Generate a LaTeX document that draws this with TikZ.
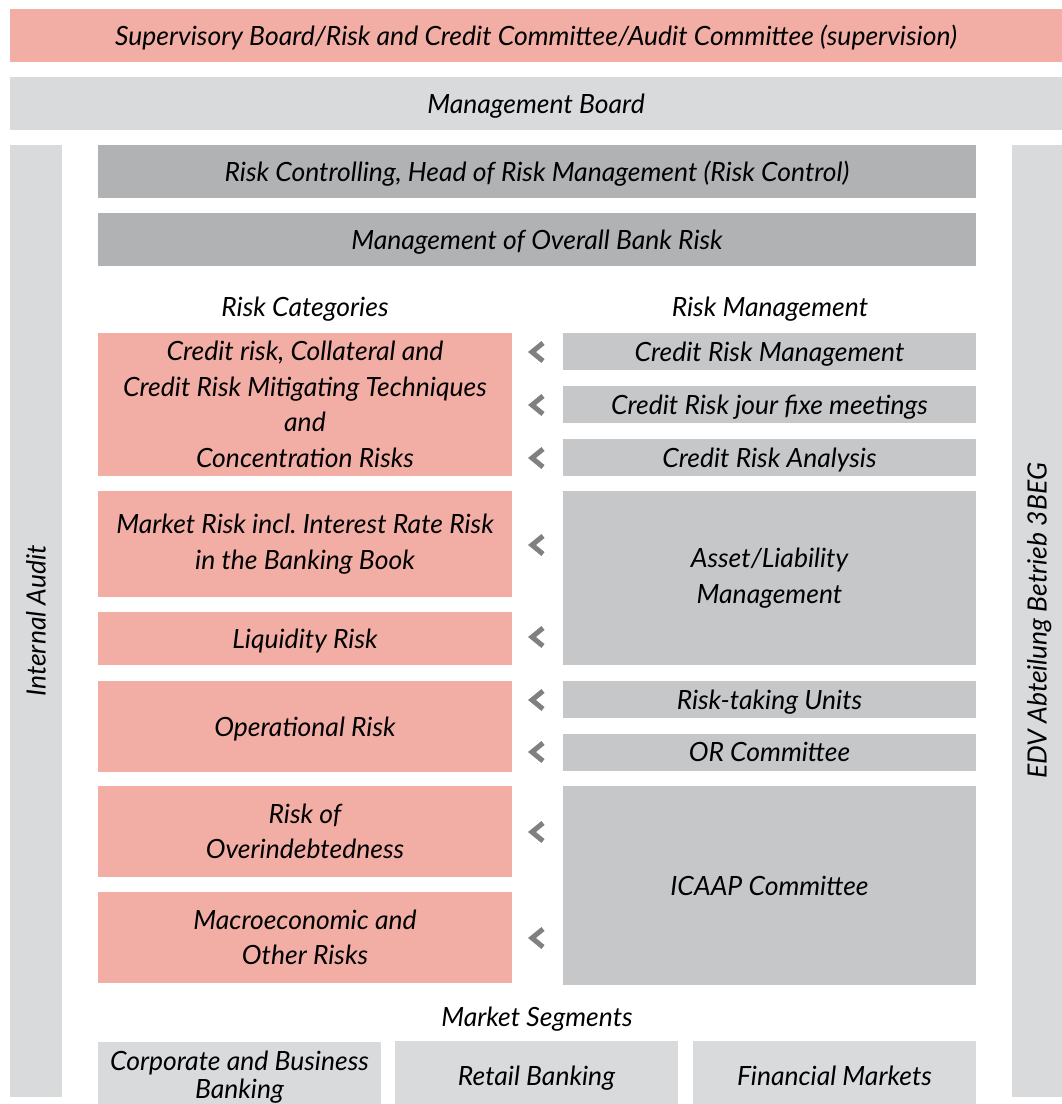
\documentclass[tikz,border=0pt]{standalone}
\usepackage{fontspec}
\setmainfont{Lato}
\frenchspacing
\definecolor{pinkc}{RGB}{242,174,165}
\definecolor{lightg}{RGB}{217,218,220}
\definecolor{midg}{RGB}{198,199,201}
\definecolor{darkg}{RGB}{177,178,180}
\definecolor{chevc}{RGB}{128,128,128}
\begin{document}
\begin{tikzpicture}[x=1pt,y=-1pt,
  box/.style={inner sep=0pt, outer sep=0pt, align=center, text=black,
    font=\fontsize{26.5}{35.5}\selectfont\itshape},
  one/.style={text height=19pt, text depth=0pt},
  pinkbox/.style={box, fill=pinkc},
  lightbox/.style={box, fill=lightg},
  midbox/.style={box, fill=midg},
  darkbox/.style={box, fill=darkg},
  head/.style={inner sep=0pt, one, font=\fontsize{26.5}{30}\selectfont\itshape},
  chev/.style={draw=chevc, line width=5pt, line join=miter, line cap=butt}]
\useasboundingbox (0,0) rectangle (1062,1104);
% top bars
\node[pinkbox, one, minimum width=1052pt, minimum height=53pt] (sup) at (536,35.5)
  {Supervisory Board/Risk and Credit Committee/Audit Committee (supervision)};
\node[lightbox, one, minimum width=1052pt, minimum height=53pt] (mb) at (536,103.5)
  {Management Board};
% side bars
\node[lightbox, one, minimum width=952pt, minimum height=52pt, rotate=90] (audit) at (36,621)
  {Internal Audit};
\node[lightbox, one, minimum width=952pt, minimum height=50pt, rotate=90] (edv) at (1037,621)
  {EDV Abteilung Betrieb 3BEG};
% dark bars
\node[darkbox, one, minimum width=878pt, minimum height=53pt] (rc) at (537,171.5)
  {Risk Controlling, Head of Risk Management (Risk Control)};
\node[darkbox, one, minimum width=878pt, minimum height=53pt] (mobr) at (537,239.5)
  {Management of Overall Bank Risk};
% headers
\node[head] (hcat) at (305,307) {Risk Categories};
\node[head] (hman) at (770,307) {Risk Management};
% risk categories
\node[pinkbox, minimum width=414pt, minimum height=143pt] (cr) at (305,404.5)
  {Credit risk, Collateral and\\Credit Risk Mitigating Techniques\\and\\Concentration Risks};
\node[pinkbox, minimum width=414pt, minimum height=106pt] (mr) at (305,544)
  {Market Risk incl. Interest Rate Risk\\in the Banking Book};
\node[pinkbox, one, minimum width=414pt, minimum height=53pt] (liq) at (305,638.5)
  {Liquidity Risk};
\node[pinkbox, one, minimum width=414pt, minimum height=91pt] (op) at (305,726.5)
  {Operational Risk};
\node[pinkbox, minimum width=414pt, minimum height=91pt] (od) at (305,831.5)
  {Risk of\\Overindebtedness};
\node[pinkbox, minimum width=414pt, minimum height=91pt] (mac) at (305,937.5)
  {Macroeconomic and\\Other Risks};
% risk management
\node[midbox, one, minimum width=413pt, minimum height=37pt] (crm) at (769.5,351.5)
  {Credit Risk Management};
\node[midbox, one, minimum width=413pt, minimum height=37pt] (jf) at (769.5,404.5)
  {Credit Risk jour fixe meetings};
\node[midbox, one, minimum width=413pt, minimum height=37pt] (cra) at (769.5,457.5)
  {Credit Risk Analysis};
\node[midbox, minimum width=413pt, minimum height=174pt] (alm) at (769.5,578)
  {Asset/Liability\\Management};
\node[midbox, one, minimum width=413pt, minimum height=37pt] (rtu) at (769.5,699.5)
  {Risk-taking Units};
\node[midbox, one, minimum width=413pt, minimum height=37pt] (orc) at (769.5,752)
  {OR Committee};
\node[midbox, one, minimum width=413pt, minimum height=199pt] (icaap) at (769.5,885.5)
  {ICAAP Committee};
% chevrons
\foreach \yy in {352,405,458,545,637,700,752,832,938}
  \draw[chev] (543,\yy-9) -- (532,\yy) -- (543,\yy+9);
% market segments
\node[head] (hseg) at (537,1017) {Market Segments};
\node[lightbox, minimum width=283pt, minimum height=70pt,
  font=\fontsize{26.5}{28}\selectfont\itshape] (corp) at (239.5,1077)
  {Corporate and Business\\Banking};
\node[lightbox, one, minimum width=283pt, minimum height=70pt] (retail) at (536.5,1076)
  {Retail Banking};
\node[lightbox, one, minimum width=283pt, minimum height=70pt] (fin) at (834.5,1076)
  {Financial Markets};
\end{tikzpicture}
\end{document}
